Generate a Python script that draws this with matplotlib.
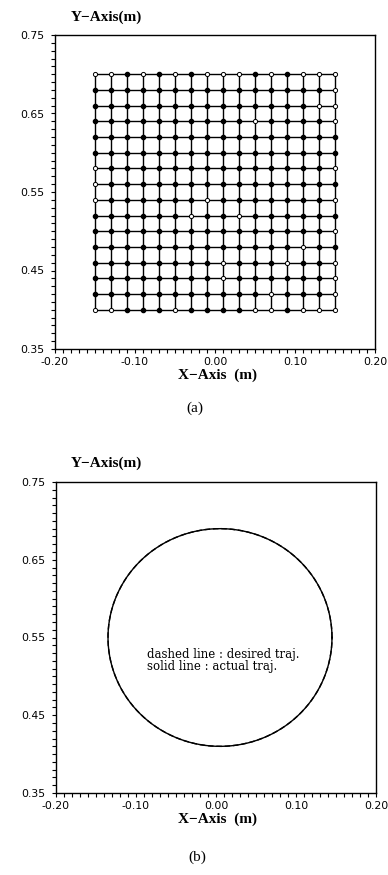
import numpy as np
import matplotlib
matplotlib.use("Agg")
import matplotlib.pyplot as plt
from matplotlib.ticker import MultipleLocator, FormatStrFormatter

# ---- data -------------------------------------------------------------
# (a) grid trajectory: node coordinates (m)
grid_x = [-0.15, -0.13, -0.11, -0.09, -0.07, -0.05, -0.03, -0.01,
          0.01, 0.03, 0.05, 0.07, 0.09, 0.11, 0.13, 0.15]
grid_y = [0.40, 0.42, 0.44, 0.46, 0.48, 0.50, 0.52, 0.54,
          0.56, 0.58, 0.60, 0.62, 0.64, 0.66, 0.68, 0.70]
# nodes drawn with open markers (column index, row index)
open_nodes = [(0, 15), (1, 15), (3, 15), (5, 15), (7, 15), (8, 15), (9, 15),
              (11, 15), (13, 15), (14, 15), (15, 15),
              (15, 14), (15, 13), (15, 12), (14, 13), (10, 12),
              (0, 9), (0, 8), (0, 7), (7, 7), (15, 9), (15, 7),
              (15, 5), (13, 4), (15, 3), (15, 2), (15, 1), (0, 0), (1, 0),
              (5, 0), (10, 0), (11, 0), (13, 0), (14, 0), (15, 0),
              (8, 2), (8, 3), (11, 1), (6, 6), (9, 6), (12, 3)]

# (b) circular trajectory
circle_center = (0.005, 0.55)
circle_radius = 0.14

x_ticks = [-0.20, -0.10, 0.00, 0.10, 0.20]
y_ticks = [0.35, 0.45, 0.55, 0.65, 0.75]

# ---- figure -----------------------------------------------------------
fig = plt.figure(figsize=(3.88, 8.75), dpi=100)
ax_a = fig.add_axes([55 / 388, 1 - 349 / 875, 320 / 388, 314 / 875])
ax_b = fig.add_axes([56 / 388, 1 - 793 / 875, 320 / 388, 311 / 875])

tick_font = {"family": "DejaVu Sans", "size": 7.8}
label_font = dict(family="Liberation Serif", size=11, weight="bold")


def style_axes(ax):
    ax.set_xlim(-0.20, 0.20)
    ax.set_ylim(0.35, 0.75)
    ax.set_xticks(x_ticks)
    ax.set_yticks(y_ticks)
    ax.xaxis.set_minor_locator(MultipleLocator(0.01))
    ax.yaxis.set_minor_locator(MultipleLocator(0.01))
    ax.xaxis.set_major_formatter(FormatStrFormatter("%.2f"))
    ax.yaxis.set_major_formatter(FormatStrFormatter("%.2f"))
    ax.tick_params(which="both", direction="out", length=3, width=0.8,
                   top=False, right=False, colors="black")
    ax.tick_params(axis="y", pad=5)
    ax.tick_params(axis="x", pad=3)
    for lab in ax.get_xticklabels() + ax.get_yticklabels():
        lab.set_fontfamily(tick_font["family"])
        lab.set_fontsize(tick_font["size"])
    for sp in ax.spines.values():
        sp.set_linewidth(1.0)
        sp.set_color("black")


# (a) grid
style_axes(ax_a)
gx, gy = np.meshgrid(grid_x, grid_y)
for j in range(len(grid_y)):
    ax_a.plot(gx[j, :], gy[j, :], color="black", lw=1.0, zorder=2)
for i in range(len(grid_x)):
    ax_a.plot(gx[:, i], gy[:, i], color="black", lw=1.0, zorder=2)
open_set = set(open_nodes)
fx, fy, ox, oy = [], [], [], []
for i, xv in enumerate(grid_x):
    for j, yv in enumerate(grid_y):
        if (i, j) in open_set:
            ox.append(xv); oy.append(yv)
        else:
            fx.append(xv); fy.append(yv)
ax_a.plot(fx, fy, "o", ms=3.0, color="black", zorder=3)
ax_a.plot(ox, oy, "o", ms=3.0, mfc="white", mec="black", mew=0.7, zorder=3)

# (b) circle
style_axes(ax_b)
theta = np.linspace(0, 2 * np.pi, 400)
cx = circle_center[0] + circle_radius * np.cos(theta)
cy = circle_center[1] + circle_radius * np.sin(theta)
ax_b.plot(cx, cy, color="black", lw=1.0, ls=(0, (4, 2)), zorder=2)
ax_b.plot(cx, cy, color="black", lw=1.0, zorder=3)
ax_b.text(-0.086, 0.528, "dashed line : desired traj.",
          family="DejaVu Serif", size=8.5, va="center", ha="left")
ax_b.text(-0.086, 0.513, "solid line : actual traj.",
          family="DejaVu Serif", size=8.5, va="center", ha="left")

# axis titles and captions
fig.text(106 / 388, 1 - 17 / 875, "Y\u2212Axis(m)", ha="center", va="center", **label_font)
fig.text(106 / 388, 1 - 463 / 875, "Y\u2212Axis(m)", ha="center", va="center", **label_font)
fig.text(217 / 388, 1 - 375 / 875, "X\u2212Axis  (m)", ha="center", va="center", **label_font)
fig.text(217 / 388, 1 - 819 / 875, "X\u2212Axis  (m)", ha="center", va="center", **label_font)
fig.text(195 / 388, 1 - 408 / 875, "(a)", ha="center", va="center",
         family="Liberation Serif", size=11)
fig.text(197 / 388, 1 - 857 / 875, "(b)", ha="center", va="center",
         family="Liberation Serif", size=11)

fig.savefig("out.png", dpi=100, facecolor="white")
